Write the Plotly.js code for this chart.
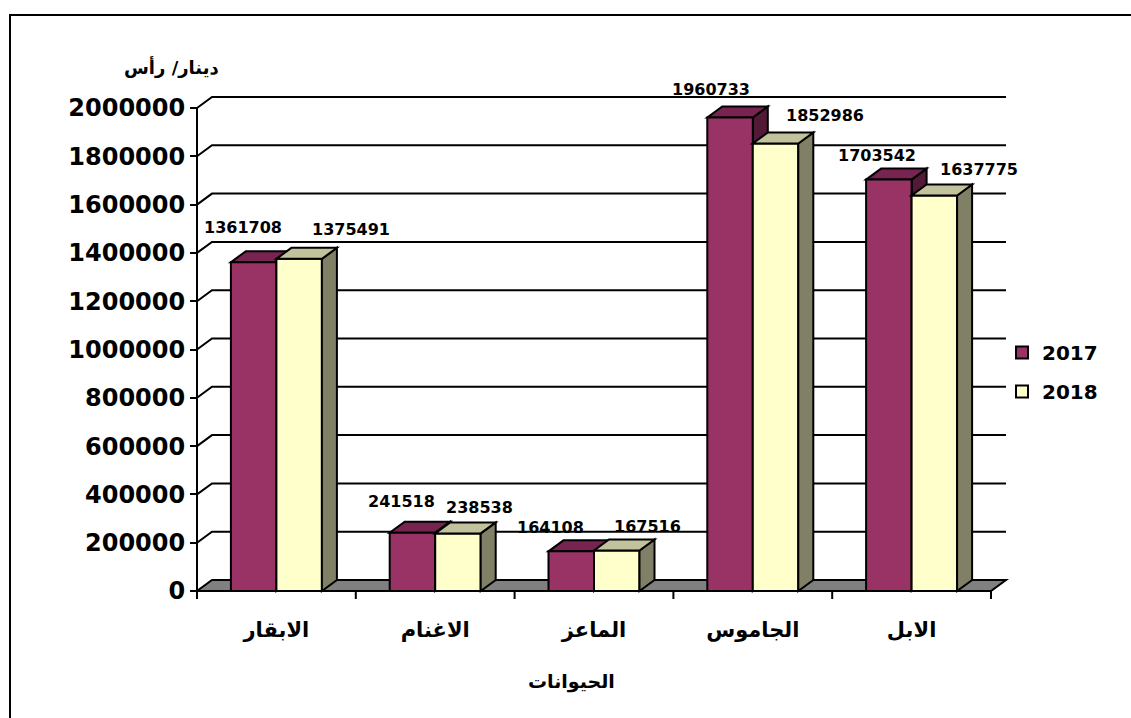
<!DOCTYPE html>
<html>
<head>
<meta charset="utf-8">
<script src="https://cdn.plot.ly/plotly-3.0.1.min.js"></script>
<style>
html, body { margin:0; padding:0; background:#fff; overflow:hidden; }
#wrap { position:relative; width:1131px; height:718px; overflow:hidden; }
#chart { width:1131px; height:718px; }
#frame { position:absolute; left:9px; top:14px; width:1300px; height:900px; border:2px solid #000; pointer-events:none; }
</style>
</head>
<body>
<div id="wrap"><div id="chart"></div><div id="frame"></div></div>
<script>
// ---- data ----
const categories = ['الابقار', 'الاغنام', 'الماعز', 'الجاموس', 'الابل'];
const seriesNames = ['2017', '2018'];
const values2017 = [1361708, 241518, 164108, 1960733, 1703542];
const values2018 = [1375491, 238538, 167516, 1852986, 1637775];
const yTickValues = [0, 200000, 400000, 600000, 800000, 1000000, 1200000, 1400000, 1600000, 1800000, 2000000];
const yTitle = 'دينار/ رأس';
const xTitle = 'الحيوانات';

// ---- label nudges (pixels), as placed in the original ----
const labelDx2017 = [-11, -11, -21, -19, -12];
const labelDx2018 = [52, 22, 31, 49, 45];
const labelDy2017 = [35, 31, 24, 28, 24];
const labelDy2018 = [29, 26, 24, 28, 26];

// ---- geometry ----
const W = 1131, H = 718;
const M = { l: 150, r: 111, t: 60, b: 118 };
const plotW = W - M.l - M.r, plotH = H - M.t - M.b;
const axisLeft = 197 - M.l, axisRight = 991 - M.l;        // front x-extent within plot
const nCat = categories.length;
const pxPerX = (axisRight - axisLeft) / nCat;
const xRange = [-0.5 - axisLeft / pxPerX, -0.5 + (plotW - axisLeft) / pxPerX];
const yMax = yTickValues[yTickValues.length - 1];
const zeroPx = 591 - M.t, topPx = 108 - M.t;
const pxPerY = (zeroPx - topPx) / yMax;
const yRange = [-(plotH - zeroPx) / pxPerY, yMax + topPx / pxPerY];
const dX = 15 / pxPerX, dY = 11 / pxPerY;                 // depth offset
const bargap = 0.427;
const barW = (1 - bargap) / 2;

const FONT = 'DejaVu Sans';
const xs = categories.map((c, i) => i);

const colors = {
  f17: '#993366', t17: '#772450', s17: '#521a37',
  f18: '#FFFFCC', t18: '#C2C29C', s18: '#808066'
};

function poly(pts) {
  return 'M' + pts.map(p => p[0] + ',' + p[1]).join('L') + 'Z';
}

const shapes = [];
// floor
shapes.push({ type: 'path', xref: 'x', yref: 'y', layer: 'below',
  path: poly([[-0.5, 0], [nCat - 0.5, 0], [nCat - 0.5 + dX, dY], [-0.5 + dX, dY]]),
  fillcolor: '#808080', line: { color: '#000', width: 2 } });
// back-wall gridlines with their side diagonals
yTickValues.forEach(v => {
  if (v === 0) return;
  shapes.push({ type: 'path', xref: 'x', yref: 'y', layer: 'below',
    path: 'M-0.5,' + v + 'L' + (-0.5 + dX) + ',' + (v + dY) + 'L' + (nCat - 0.5 + dX) + ',' + (v + dY),
    line: { color: '#000', width: 2 } });
});
// front y axis line
shapes.push({ type: 'line', xref: 'x', yref: 'y', layer: 'below',
  x0: -0.5, x1: -0.5, y0: 0, y1: yMax, line: { color: '#000', width: 2 } });
// category boundary ticks
for (let i = 0; i <= nCat; i++) {
  shapes.push({ type: 'line', xref: 'x', yref: 'y', layer: 'below',
    x0: i - 0.5, x1: i - 0.5, y0: 0, y1: -8 / pxPerY, line: { color: '#000', width: 2 } });
}
// 3D faces
function faces(vals, offset, top, side, layer) {
  vals.forEach((v, i) => {
    const x0 = i + offset, x1 = x0 + barW;
    shapes.push({ type: 'path', xref: 'x', yref: 'y', layer: layer,
      path: poly([[x1, 0], [x1, v], [x1 + dX, v + dY], [x1 + dX, dY]]),
      fillcolor: side, line: { color: '#000', width: 2 } });
    shapes.push({ type: 'path', xref: 'x', yref: 'y', layer: layer,
      path: poly([[x0, v], [x1, v], [x1 + dX, v + dY], [x0 + dX, v + dY]]),
      fillcolor: top, line: { color: '#000', width: 2 } });
  });
}
faces(values2017, -barW, colors.t17, colors.s17, 'below');
faces(values2018, 0, colors.t18, colors.s18, 'above');

// data labels
const annotations = [];
values2017.forEach((v, i) => annotations.push({
  xref: 'x', yref: 'y', x: i - barW / 2, y: v, text: String(v), showarrow: false,
  xanchor: 'center', yanchor: 'middle', xshift: labelDx2017[i], yshift: labelDy2017[i],
  font: { family: FONT, size: 16, weight: 700, color: '#000' } }));
values2018.forEach((v, i) => annotations.push({
  xref: 'x', yref: 'y', x: i + barW / 2, y: v, text: String(v), showarrow: false,
  xanchor: 'center', yanchor: 'middle', xshift: labelDx2018[i], yshift: labelDy2018[i],
  font: { family: FONT, size: 16, weight: 700, color: '#000' } }));
// axis titles
annotations.push({ xref: 'paper', yref: 'paper', x: (171 - M.l) / plotW, y: (H - M.b - 67) / plotH,
  text: yTitle, showarrow: false, xanchor: 'center', yanchor: 'middle',
  font: { family: FONT, size: 18, weight: 700, color: '#000' } });
annotations.push({ xref: 'paper', yref: 'paper', x: (571 - M.l) / plotW, y: (H - M.b - 681) / plotH,
  text: xTitle, showarrow: false, xanchor: 'center', yanchor: 'middle',
  font: { family: FONT, size: 19, weight: 700, color: '#000' } });

const traces = [
  { type: 'bar', name: seriesNames[0], x: xs, y: values2017, legendgroup: 'a',
    marker: { color: colors.f17, line: { color: '#000', width: 2 } }, hoverinfo: 'skip' },
  { type: 'bar', name: seriesNames[1], x: xs, y: values2018, legendgroup: 'b',
    marker: { color: colors.f18, line: { color: '#000', width: 2 } }, hoverinfo: 'skip' }
];

const layout = {
  width: W, height: H,
  margin: M,
  paper_bgcolor: '#fff', plot_bgcolor: 'rgba(0,0,0,0)',
  barmode: 'group', bargap: bargap, bargroupgap: 0,
  font: { family: FONT, color: '#000' },
  showlegend: true,
  legend: { x: (1002 - M.l) / plotW, y: (H - M.b - 333) / plotH, xanchor: 'left', yanchor: 'top',
    traceorder: 'grouped', tracegroupgap: 10,
    font: { family: FONT, size: 20, weight: 700, color: '#000' }, bgcolor: 'rgba(0,0,0,0)' },
  xaxis: { range: xRange, tickvals: xs, ticktext: categories, ticks: 'outside', ticklen: 20,
    tickcolor: 'rgba(0,0,0,0)', showline: false, showgrid: false, zeroline: false,
    anchor: 'free', position: (plotH - zeroPx) / plotH, fixedrange: true,
    tickfont: { family: FONT, size: 21, weight: 700, color: '#000' } },
  yaxis: { range: yRange, tickvals: yTickValues, tickformat: 'd', ticks: 'outside', ticklen: 7,
    tickwidth: 2, tickcolor: '#000', showline: false, showgrid: false, zeroline: false,
    anchor: 'free', position: axisLeft / plotW, fixedrange: true,
    tickfont: { family: FONT, size: 24, weight: 700, color: '#000' } },
  shapes: shapes,
  annotations: annotations
};

Plotly.newPlot('chart', traces, layout, { displayModeBar: false, staticPlot: true });
</script>
</body>
</html>
